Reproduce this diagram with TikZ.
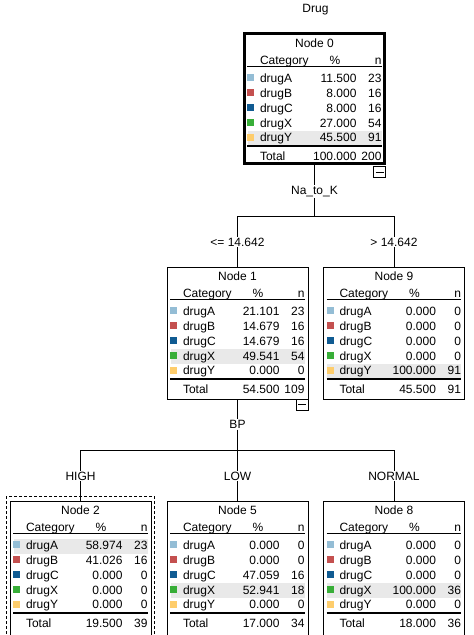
\documentclass[tikz,border=0pt]{standalone}
\usepackage{fontspec}
\setmainfont{Liberation Sans}
\definecolor{colA}{HTML}{94BDD5}
\definecolor{colB}{HTML}{C4504F}
\definecolor{colC}{HTML}{105B92}
\definecolor{colX}{HTML}{38AE38}
\definecolor{colY}{HTML}{FECD6C}
\definecolor{hlgray}{HTML}{E9E9E9}
\tikzset{
  tbox/.style={draw, line width=1pt, minimum width=141pt, minimum height=132pt, inner sep=0pt, outer sep=0pt, anchor=north west},
  rootbox/.style={tbox, line width=3pt, minimum width=140pt, minimum height=130pt, xshift=0.5pt, yshift=0.5pt},
  leafbox/.style={tbox, minimum height=140pt},
  txt/.style={inner sep=0pt, outer sep=0pt, font=\fontsize{12}{14}\selectfont},
  lbl/.style={txt, inner ysep=1pt, fill=white},
  swatch/.style={inner sep=0pt, outer sep=0pt, minimum size=7pt, anchor=north west},
  conn/.style={line width=1pt},
  sel/.style={line width=1pt, dash pattern=on 3pt off 2pt},
  collapse/.style={draw, line width=1pt, minimum width=12pt, minimum height=11pt, inner sep=0pt, outer sep=0pt, anchor=north east},
}
% #1 name, #2 box style, #3 left, #4 top, #5 title, #6 rows, #7 total pct, #8 total n, #9 highlighted row
\newcommand\treenode[9]{%
  \node[#2] (#1) at (#3,#4) {};
  \begin{scope}[shift={(#3,#4)}]
    \node[txt, anchor=base] (#1-title) at (70.5,13.5) {#5};
    \node[txt, anchor=base west] (#1-hc) at (16,30.3) {Category};
    \node[txt, anchor=base] (#1-hp) at (91,30.3) {\%};
    \node[txt, anchor=base east] (#1-hn) at (137.5,30.3) {n};
    \draw[line width=1pt] (3,32.5) -- (137.5,32.5);
    \foreach \vd/\vp/\vn [count=\vi from 0] in {#6}{
      \pgfmathsetmacro\vb{48.3+14.9*\vi}
      \ifnum\vi=#9\relax \fill[hlgray] (3.5,{\vb-10.7}) rectangle (137.5,{\vb+4.3}); \fi
      \node[swatch, fill=col\vd] (#1-s\vd) at (3,{\vb-8}) {};
      \node[txt, anchor=base west] (#1-d\vd) at (16,\vb) {drug\vd};
      \node[txt, anchor=base east] (#1-p\vd) at (112.5,\vb) {\vp};
      \node[txt, anchor=base east] (#1-n\vd) at (137.5,\vb) {\vn};
    }
    \draw[line width=2pt] (3,111.5) -- (137.5,111.5);
    \node[txt, anchor=base west] (#1-tl) at (16,126.3) {Total};
    \node[txt, anchor=base east] (#1-tp) at (112.5,126.3) {#7};
    \node[txt, anchor=base east] (#1-tn) at (137.5,126.3) {#8};
  \end{scope}}
\begin{document}
\begin{tikzpicture}[x=1pt, y=-1pt]
  \fill[white] (0,0) rectangle (474,635);
  \useasboundingbox (0,0) rectangle (474,635);
  \clip (0,0) rectangle (474,635);

  \node[txt, anchor=base] (title) at (315.5,12.3) {Drug};

  \treenode{n0}{rootbox}{244}{34}{Node 0}{A/11.500/23,B/8.000/16,C/8.000/16,X/27.000/54,Y/45.500/91}{100.000}{200}{4}
  \treenode{n1}{tbox}{167}{267}{Node 1}{A/21.101/23,B/14.679/16,C/14.679/16,X/49.541/54,Y/0.000/0}{54.500}{109}{3}
  \treenode{n9}{tbox}{323.5}{267}{Node 9}{A/0.000/0,B/0.000/0,C/0.000/0,X/0.000/0,Y/100.000/91}{45.500}{91}{4}
  \treenode{n2}{leafbox}{10}{501}{Node 2}{A/58.974/23,B/41.026/16,C/0.000/0,X/0.000/0,Y/0.000/0}{19.500}{39}{0}
  \treenode{n5}{leafbox}{167}{501}{Node 5}{A/0.000/0,B/0.000/0,C/47.059/16,X/52.941/18,Y/0.000/0}{17.000}{34}{3}
  \treenode{n8}{leafbox}{323.5}{501}{Node 8}{A/0.000/0,B/0.000/0,C/0.000/0,X/100.000/36,Y/0.000/0}{18.000}{36}{3}

  % selection frame around node 2
  \draw[sel] ([xshift=-4pt,yshift=5pt]n2.north west) rectangle ([xshift=3pt,yshift=-5pt]n2.south east);

  % collapse boxes
  \node[collapse] (c0) at ([xshift=1pt,yshift=-3pt]n0.south east) {\rule{8pt}{1pt}};
  \node[collapse] (c1) at (n1.south east) {\rule{8pt}{1pt}};

  % split labels
  \node[lbl, anchor=base] (l0) at (314.5,194.5) {Na\_to\_K};
  \node[lbl, anchor=base] (l1) at (237.5,246) {<= 14.642};
  \node[lbl, anchor=base] (l9) at (394,246) {> 14.642};
  \node[lbl, anchor=base] (lb) at (237.5,428.7) {BP};
  \node[lbl, anchor=base] (lh) at (80.5,480) {HIGH};
  \node[lbl, anchor=base] (ll) at (237.5,480) {LOW};
  \node[lbl, anchor=base] (lnm) at (394,480) {NORMAL};

  \coordinate (b0) at (314.5,216);
  \coordinate (b1) at (237.5,450);

  % connectors
  \draw[conn] (n0.south) -- (l0.north);
  \draw[conn] (l0.south) -- (b0);
  \draw[conn] (l1.north) |- (b0);
  \draw[conn] (l9.north) |- (b0);
  \draw[conn] (l1.south) -- (n1.north);
  \draw[conn] (l9.south) -- (n9.north);

  \draw[conn] (n1.south) -- (lb.north);
  \draw[conn] (lb.south) -- (b1);
  \draw[conn] (lh.north) |- (b1);
  \draw[conn] (lnm.north) |- (b1);
  \draw[conn] (ll.north) -- (b1);
  \draw[conn] (lh.south) -- (n2.north);
  \draw[conn] (ll.south) -- (n5.north);
  \draw[conn] (lnm.south) -- (n8.north);
\end{tikzpicture}
\end{document}
